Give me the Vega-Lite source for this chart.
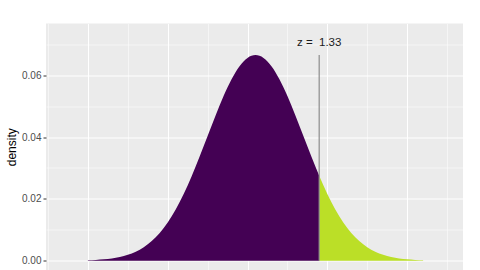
{
  "$schema": "https://vega.github.io/schema/vega-lite/v6.json",
  "width": 417,
  "height": 246.5,
  "autosize": {"type": "none"},
  "padding": {"left": 46, "top": 23.5, "right": 17, "bottom": 0},
  "background": "white",
  "datasets": {
    "left": [
      {"x": 30, "density": 0.000145}, {"x": 31, "density": 0.000257}, {"x": 32, "density": 0.000442},
      {"x": 33, "density": 0.000739}, {"x": 34, "density": 0.0012}, {"x": 35, "density": 0.0019},
      {"x": 36, "density": 0.00292}, {"x": 37, "density": 0.00437}, {"x": 38, "density": 0.00636},
      {"x": 39, "density": 0.009}, {"x": 40, "density": 0.01239}, {"x": 41, "density": 0.01658},
      {"x": 42, "density": 0.02159}, {"x": 43, "density": 0.02733}, {"x": 44, "density": 0.03367},
      {"x": 45, "density": 0.04033}, {"x": 46, "density": 0.04699}, {"x": 47, "density": 0.05324},
      {"x": 48, "density": 0.05868}, {"x": 49, "density": 0.0629}, {"x": 50, "density": 0.06557},
      {"x": 51, "density": 0.06649}, {"x": 52, "density": 0.06557}, {"x": 53, "density": 0.0629},
      {"x": 54, "density": 0.05868}, {"x": 55, "density": 0.05324}, {"x": 56, "density": 0.04699},
      {"x": 57, "density": 0.04033}, {"x": 58, "density": 0.03367}, {"x": 58.98, "density": 0.02745}
    ],
    "right": [
      {"x": 58.98, "density": 0.02745}, {"x": 60, "density": 0.02159}, {"x": 61, "density": 0.01658},
      {"x": 62, "density": 0.01239}, {"x": 63, "density": 0.009}, {"x": 64, "density": 0.00636},
      {"x": 65, "density": 0.00437}, {"x": 66, "density": 0.00292}, {"x": 67, "density": 0.0019},
      {"x": 68, "density": 0.0012}, {"x": 69, "density": 0.000739}, {"x": 70, "density": 0.000442},
      {"x": 71, "density": 0.000257}, {"x": 72, "density": 0.000145}
    ],
    "zline": [{"x": 58.98, "density": 0, "top": 0.0665, "label": "z =\u00a0 1.33", "ty": 0.0705}]
  },
  "encoding": {
    "x": {
      "field": "x", "type": "quantitative",
      "scale": {"domain": [24.75, 77], "nice": false, "zero": false},
      "axis": {
        "values": [25, 30, 35, 40, 45, 50, 55, 60, 65, 70, 75],
        "labels": false, "ticks": false, "domain": false, "title": null,
        "grid": true, "gridColor": "white",
        "gridWidth": {"condition": {"test": "round(datum.value) % 10 == 0", "value": 1.1}, "value": 0.5}
      }
    },
    "y": {
      "field": "density", "type": "quantitative",
      "scale": {"domain": [-0.003, 0.0767], "nice": false, "zero": false},
      "axis": {
        "values": [0, 0.01, 0.02, 0.03, 0.04, 0.05, 0.06, 0.07],
        "format": ".2f",
        "labelExpr": "round(datum.value*100) % 2 == 0 ? datum.label : ''",
        "grid": true, "gridColor": "white",
        "gridWidth": {"condition": {"test": "round(datum.value*100) % 2 == 0", "value": 1.1}, "value": 0.5},
        "tickOpacity": {"condition": {"test": "round(datum.value*100) % 2 == 0", "value": 1}, "value": 0},
        "domain": false, "tickSize": 3, "tickColor": "#333333", "tickWidth": 1,
        "labelFont": "Liberation Sans", "labelFontSize": 10, "labelColor": "#4D4D4D", "labelPadding": 2,
        "title": "density", "titleFont": "Liberation Sans", "titleFontSize": 12, "titleFontWeight": "normal",
        "titleColor": "#000000", "titlePadding": 3
      }
    }
  },
  "layer": [
    {
      "data": {"name": "left"},
      "mark": {"type": "area", "color": "#440154", "interpolate": "monotone"},
      "encoding": {"y2": {"datum": 0}}
    },
    {
      "data": {"name": "right"},
      "mark": {"type": "area", "color": "#BBDF27", "interpolate": "monotone"},
      "encoding": {"y2": {"datum": 0}}
    },
    {
      "data": {"name": "zline"},
      "mark": {"type": "rule", "color": "#8c8c8c", "strokeWidth": 1.2},
      "encoding": {"y2": {"field": "top"}}
    },
    {
      "data": {"name": "zline"},
      "mark": {"type": "text", "font": "Liberation Sans", "fontSize": 11.5, "color": "#1a1a1a", "align": "center", "baseline": "middle"},
      "encoding": {"y": {"field": "ty", "type": "quantitative"}, "text": {"field": "label"}}
    }
  ],
  "config": {"view": {"fill": "#EBEBEB", "stroke": null}}
}
